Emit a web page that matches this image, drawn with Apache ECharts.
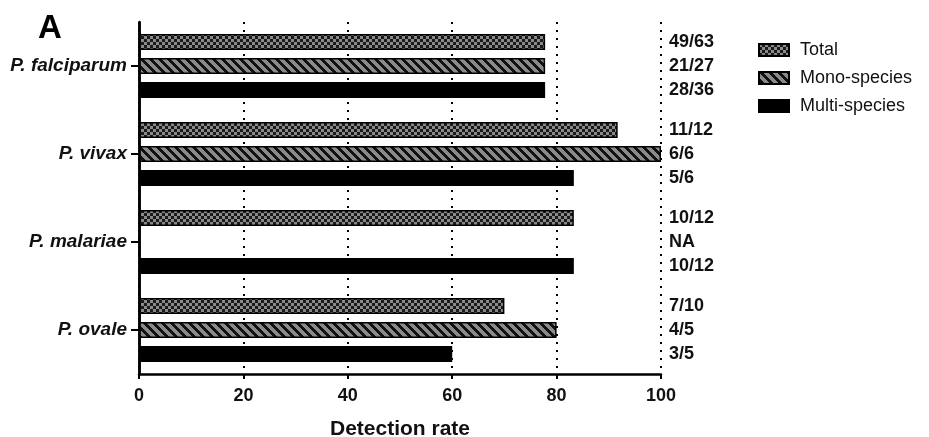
<!DOCTYPE html>
<html><head><meta charset="utf-8">
<script src="https://cdn.jsdelivr.net/npm/echarts@6/dist/echarts.min.js"></script>
<style>html,body{margin:0;padding:0;background:#fff}#c{width:929px;height:437px}</style>
</head><body><div id="c"></div>
<script>
const categories = ['P. falciparum', 'P. vivax', 'P. malariae', 'P. ovale'];
const seriesNames = ['Total', 'Mono-species', 'Multi-species'];
const totalRate = [77.8, 91.7, 83.3, 70];
const monoRate = [77.8, 100, null, 80];
const multiRate = [77.8, 83.3, 83.3, 60];
const totalFrac = ['49/63', '11/12', '10/12', '7/10'];
const monoFrac = ['21/27', '6/6', 'NA', '4/5'];
const multiFrac = ['28/36', '5/6', '10/12', '3/5'];
const xTicks = [0, 20, 40, 60, 80, 100];
const labelAnchor = [100, 100, 100, 100];

function checker() {
  const c = document.createElement('canvas'); c.width = 6; c.height = 6;
  const g = c.getContext('2d');
  for (let y = 0; y < 6; y++) for (let x = 0; x < 6; x++) {
    g.fillStyle = ((Math.floor(x/3) + Math.floor(y/3)) % 2) ? '#1a1a1a' : '#8a8a8a';
    g.fillRect(x, y, 1, 1);
  }
  return c;
}
function stripes() {
  const c = document.createElement('canvas'); c.width = 9; c.height = 9;
  const g = c.getContext('2d');
  for (let y = 0; y < 9; y++) for (let x = 0; x < 9; x++) {
    g.fillStyle = (((x - y) % 9 + 9) % 9) < 4 ? '#111' : '#8a8a8a';
    g.fillRect(x, y, 1, 1);
  }
  return c;
}
const fills = [
  { image: checker(), repeat: 'repeat' },
  { image: stripes(), repeat: 'repeat' },
  '#000'
];
const rates = [totalRate, monoRate, multiRate];
const fracs = [totalFrac, monoFrac, multiFrac];
const FONT = 'Liberation Sans, Arial, sans-serif';

const series = [];
for (let i = 0; i < 3; i++) {
  const s = {
    name: seriesNames[i], type: 'bar', xAxisIndex: 0, yAxisIndex: 0,
    data: rates[i], barWidth: 16, barGap: '50%',
    itemStyle: { color: fills[i], borderColor: '#000', borderWidth: 1.5 },
    emphasis: { disabled: true }
  };
  if (i === 0) {
    s.markLine = { silent: true, symbol: ['none', 'none'], label: { show: false },
      lineStyle: { color: '#000', width: 2.5, type: 'solid' }, emphasis: { disabled: true },
      data: [{ xAxis: xTicks[0] }] };
  }
  series.push(s);
}
for (let i = 0; i < 3; i++) {
  series.push({
    name: 'lab' + i, type: 'bar', xAxisIndex: 0, yAxisIndex: 1, silent: true,
    data: labelAnchor, barWidth: 16, barGap: '50%',
    itemStyle: { color: 'rgba(0,0,0,0)' },
    label: { show: true, position: 'right', distance: 8, color: '#111',
      fontFamily: FONT, fontWeight: 'bold', fontSize: 18,
      formatter: p => fracs[i][p.dataIndex] },
    emphasis: { disabled: true }
  });
}

const chart = echarts.init(document.getElementById('c'));
chart.setOption({
  animation: false,
  backgroundColor: '#fff',
  title: { text: 'A', left: 33, top: 7, textStyle: { fontFamily: FONT, fontWeight: 'bold', fontSize: 33, color: '#000' } },
  legend: {
    data: seriesNames, orient: 'vertical', left: 753, top: 36,
    icon: 'rect', itemWidth: 30, itemHeight: 12, itemGap: 10,
    textStyle: { fontFamily: FONT, fontSize: 18, color: '#111', padding: [0,0,0,6] }
  },
  grid: { left: 139, right: 268, top: 22, bottom: 63, outerBoundsMode: 'none', containLabel: false },
  xAxis: {
    type: 'value', min: 0, max: 100, interval: 20,
    name: 'Detection rate', nameLocation: 'middle', nameGap: 45,
    nameTextStyle: { fontFamily: FONT, fontWeight: 'bold', fontSize: 21, color: '#111' },
    axisLine: { show: true, onZero: false, lineStyle: { color: '#000', width: 2.5 } },
    axisTick: { show: true, length: 5, lineStyle: { color: '#000', width: 2 } },
    axisLabel: { fontFamily: FONT, fontWeight: 'bold', fontSize: 18, color: '#111', margin: 13,
      formatter: v => xTicks.includes(v) ? String(v) : '' },
    splitLine: { show: true, lineStyle: { color: '#000', width: 2, type: [2, 6] } }
  },
  yAxis: [{
    type: 'category', data: categories, inverse: true,
    axisLine: { show: true, onZero: false, lineStyle: { color: '#000', width: 2.5 } },
    axisTick: { show: true, alignWithLabel: true, length: 8, lineStyle: { color: '#000', width: 2 } },
    axisLabel: { fontFamily: FONT, fontWeight: 'bold', fontStyle: 'italic', fontSize: 19, color: '#111', margin: 12 }
  }, {
    type: 'category', data: categories, inverse: true, show: false, position: 'right'
  }],
  series: series
});
</script></body></html>
